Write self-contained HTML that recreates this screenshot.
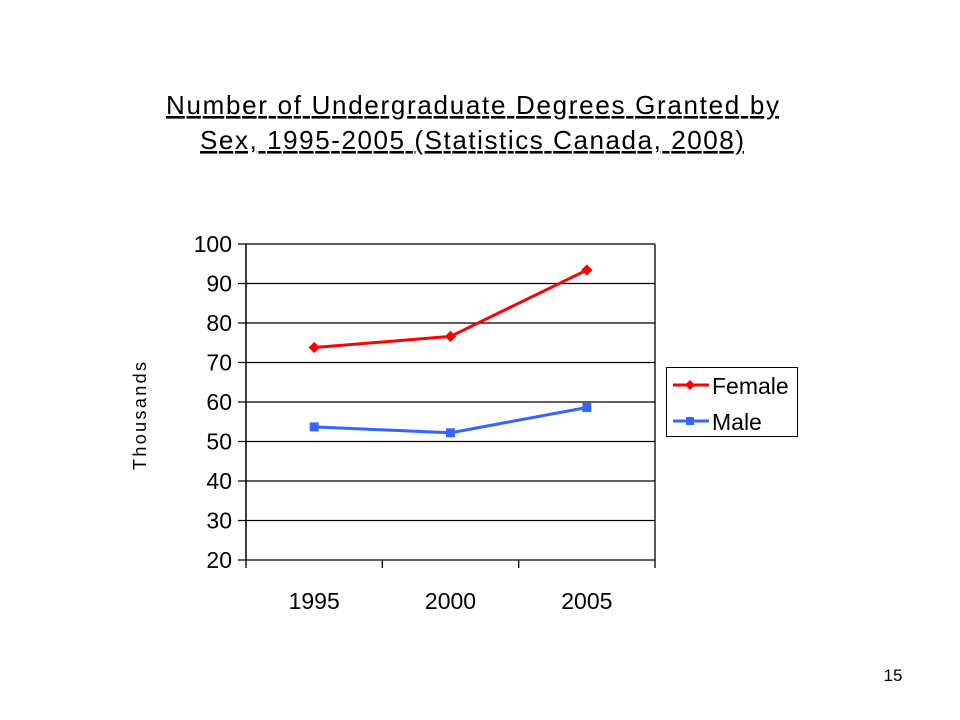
<!DOCTYPE html>
<html><head><meta charset="utf-8"><style>
body{margin:0;background:#fff;}
svg{display:block;font-family:"Liberation Sans",Arial,sans-serif;}
</style></head><body>
<svg width="960" height="720" viewBox="0 0 960 720">
<text x="166" y="114" font-size="26" textLength="613" lengthAdjust="spacing" text-decoration="underline">Number of Undergraduate Degrees Granted by</text>
<text x="200" y="149" font-size="26" textLength="544" lengthAdjust="spacing" text-decoration="underline">Sex, 1995-2005 (Statistics Canada, 2008)</text>
<g id="grid"></g>
<g id="axes"></g>
<g id="series"></g>
<text transform="translate(146,416) rotate(-90)" font-size="18" text-anchor="middle" textLength="108" lengthAdjust="spacing">Thousands</text>
<g>
<rect x="666.5" y="367.5" width="131" height="69" fill="#fff" stroke="#000"/>
<g>
<line x1="673" y1="385" x2="709" y2="385" stroke="#f00" stroke-width="3"/>
<rect x="686.5" y="381.5" width="7" height="7" fill="#f00" transform="rotate(45 690 385)"/>
<text x="712" y="394" font-size="23">Female</text></g>
<g>
<line x1="673" y1="421" x2="709" y2="421" stroke="#3366ff" stroke-width="3"/>
<rect x="686" y="417" width="8" height="8" fill="#3366ff"/>
<text x="712" y="430" font-size="23">Male</text></g>
</g>
<text x="893" y="681" font-size="17" text-anchor="middle">15</text>
</svg>
<script>
const categories=["1995","2000","2005"];
const female=[73.8,76.6,93.4];
const male=[53.7,52.2,58.6];
const yTicks=[20,30,40,50,60,70,80,90,100];
const NS="http://www.w3.org/2000/svg";
const L=246,R=655,T=244,B=560,ymin=20,ymax=100;
function y(v){return B-(v-ymin)/(ymax-ymin)*(B-T);}
function x(i){return L+(i+0.5)*(R-L)/categories.length;}
function mk(tag,attrs,parent){const e=document.createElementNS(NS,tag);for(const k in attrs)e.setAttribute(k,attrs[k]);parent.appendChild(e);return e;}
const grid=document.getElementById('grid'),axes=document.getElementById('axes'),series=document.getElementById('series');
yTicks.forEach(t=>{
 const g=mk('line',{x1:238,x2:R,y1:y(t),y2:y(t),stroke:'#000','stroke-width':1.3},grid);
 
 
 const lb=mk('text',{x:232,y:y(t)+8,'font-size':23,'text-anchor':'end'},axes);
 lb.textContent=t;
 
 
});
mk('line',{x1:L,x2:L,y1:T,y2:B,stroke:'#000','stroke-width':1.5},axes);
mk('line',{x1:R,x2:R,y1:T,y2:B,stroke:'#000','stroke-width':1.3},axes);
for(let i=0;i<=categories.length;i++){const xx=L+i*(R-L)/categories.length;mk('line',{x1:xx,x2:xx,y1:B,y2:B+8,stroke:'#000','stroke-width':1.3},axes);}
categories.forEach((c,i)=>{
 const lb=mk('text',{x:x(i),y:609,'font-size':23,'text-anchor':'middle'},axes);
 lb.textContent=c;
 
 
});
function draw(vals,color,name,diamond){
 const pl=mk('polyline',{points:vals.map((v,i)=>x(i)+','+y(v)).join(' '),fill:'none',stroke:color,'stroke-width':3},series);
 
 
 vals.forEach((v,i)=>{
  let m;
  if(diamond) m=mk('rect',{x:x(i)-4,y:y(v)-4,width:8,height:8,fill:color,transform:'rotate(45 '+x(i)+' '+y(v)+')'},series);
  else m=mk('rect',{x:x(i)-4.5,y:y(v)-4.5,width:9,height:9,fill:color},series);
  
  
 });
}
draw(female,'#f00','female',true);
draw(male,'#3366ff','male',false);
</script>
</body></html>
